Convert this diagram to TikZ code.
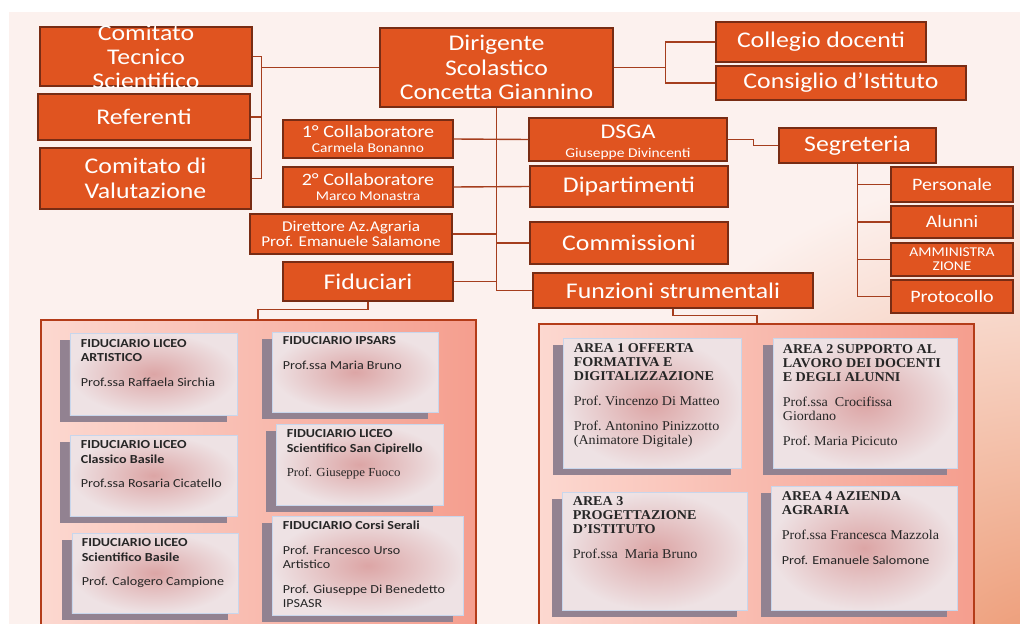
\documentclass[tikz,border=0pt]{standalone}
\usepackage{fontspec}
\setmainfont{Carlito}[FakeStretch=1.15]
\newfontfamily\cardserif{Liberation Serif}[FakeStretch=1.05]
\usetikzlibrary{shadows}
\definecolor{bgpink}{RGB}{252,241,238}
\definecolor{glow}{RGB}{236,148,108}
\definecolor{boxfill}{RGB}{224,84,32}
\definecolor{boxedge}{RGB}{120,44,20}
\definecolor{linkc}{RGB}{165,62,30}
\definecolor{panedge}{RGB}{180,60,25}
\definecolor{panL}{RGB}{252,216,208}
\definecolor{panR}{RGB}{245,158,142}
\definecolor{cin}{RGB}{220,165,165}
\definecolor{cout}{RGB}{238,226,228}
\definecolor{cedge}{RGB}{200,214,236}
\definecolor{cshade}{RGB}{146,130,145}
\begin{document}
\begin{tikzpicture}[x=1bp,y=-1bp,
 obox/.style={draw=boxedge, line width=1.2pt, fill=boxfill, text=white, align=center,
  inner sep=0pt, font=\fontsize{22.5}{24.5}\selectfont},
 otxt/.style={text=white, align=center, inner sep=0pt, font=\fontsize{22.5}{24}\selectfont},
 link/.style={draw=linkc, line width=1.4pt},
 panel/.style={draw=panedge, line width=2pt, left color=panL, right color=panR},
 card/.style={draw=cedge, line width=0.8pt, inner color=cin, outer color=cout,
  drop shadow={shadow xshift=-10pt, shadow yshift=-7pt, opacity=1, fill=cshade}},
 ftxt/.style={anchor=north west, align=left, inner sep=0pt, text=black!85,
  font=\fontsize{12.3}{14.3}\selectfont},
 atxt/.style={anchor=north west, align=left, inner sep=0pt, text=black!85,
  font=\cardserif\fontsize{13.5}{14}\selectfont}]
\useasboundingbox (0,0) rectangle (1020,624);
\fill[white] (-5,-5) rectangle (1040,650);
\fill[bgpink] (9,12) rectangle (1040,650);
\begin{scope}
 \clip (9,12) rectangle (1040,650);
 \shade[inner color=glow, outer color=bgpink] (1045,690) circle[radius=520];
\end{scope}

% left column
\node[obox, minimum width=212bp, minimum height=59bp] (cts) at (146,56.5) {};
\node[otxt] (ctst) at (cts.center) {Comitato\\Tecnico\\Scientifico};
\node[obox, minimum width=212bp, minimum height=46bp] (ref) at (144,117) {Referenti};
\node[obox, minimum width=211bp, minimum height=61bp] (cdv) at (145.5,178.5) {Comitato di\\Valutazione};

% top
\node[obox, minimum width=233bp, minimum height=79bp] (dir) at (496.5,67.5)
 {Dirigente\\Scolastico\\Concetta Giannino};
\node[obox, minimum width=210bp, minimum height=40bp] (col) at (821,42) {Collegio docenti};
\node[obox, minimum width=250bp, minimum height=34bp] (cons) at (841,83) {Consiglio d’Istituto};

% middle
\node[obox, minimum width=170bp, minimum height=38bp, font=\fontsize{17.5}{17}\selectfont] (c1) at (368,139)
 {1° Collaboratore\\[-1pt]{\fontsize{13.5}{14}\selectfont Carmela Bonanno}};
\node[obox, minimum width=170bp, minimum height=40bp, font=\fontsize{17.5}{17}\selectfont] (c2) at (368,187)
 {2° Collaboratore\\[-1pt]{\fontsize{13.5}{14}\selectfont Marco Monastra}};
\node[obox, minimum width=202bp, minimum height=40bp, font=\fontsize{15}{15}\selectfont] (daz) at (351,234)
 {Direttore Az.Agraria\\Prof. Emanuele Salamone};
\node[obox, minimum width=170bp, minimum height=39bp] (fid) at (368,281.5) {Fiduciari};
\node[obox, minimum width=198bp, minimum height=43bp] (dsga) at (628,139.5) {};
\node[otxt, font=\fontsize{21}{19.5}\selectfont] (dsgat) at ([yshift=-3bp]dsga.center)
 {DSGA\\{\fontsize{13.5}{14}\selectfont Giuseppe Divincenti}};
\node[obox, minimum width=198bp, minimum height=41bp] (dip) at (629,186.5) {Dipartimenti};
\node[obox, minimum width=198bp, minimum height=42bp] (comm) at (629,243) {Commissioni};
\node[obox, minimum width=280bp, minimum height=35bp] (fun) at (673,290.5) {Funzioni strumentali};

% segreteria
\node[obox, minimum width=157bp, minimum height=35bp] (seg) at (857.5,145.5) {Segreteria};
\foreach \n/\cy/\h/\fs/\t in {pers/184.5/35/17.5/Personale, alun/222/32/17.5/Alunni,
 amm/259.5/33/13.5/{AMMINISTRA\\ZIONE}, prot/296.5/33/17.5/Protocollo}
 \node[obox, minimum width=122bp, minimum height=\h bp, font=\fontsize{\fs}{14}\selectfont] (\n) at (952,\cy) {\t};

% links
\coordinate (jl) at ([xshift=-118bp]dir.west);
\coordinate (jr) at ([xshift=52bp]dir.east);
\coordinate (js) at ([xshift=26bp]dsga.east);
\draw[link] (cts.east) -| (jl) |- (cdv.east);
\draw[link] (ref.east) -- (ref.east -| jl);
\draw[link] (jl) -- (dir.west);
\draw[link] (col.west) -| (jr) |- (cons.west);
\draw[link] (dir.east) -- (jr);
\draw[link] (dir.south) |- (fun.west);
\foreach \n in {daz,fid}
 \draw[link] (\n.east) -- (\n.east -| dir.south);
\draw[link] (comm.west) -- (comm.west -| dir.south);
\draw[link] (c1.east) -- (dsga.west);
\draw[link] (c2.east) -- (dip.west);
\draw[link] (dsga.east) -- (js) |- (seg.west);
\draw[link] (seg.south) |- (prot.west);
\foreach \n in {pers,alun,amm}
 \draw[link] (\n.west) -- (\n.west -| seg.south);

% panels
\node[panel, minimum width=435bp, minimum height=320bp] (lpan) at (258.5,480) {};
\node[panel, minimum width=435bp, minimum height=320bp] (rpan) at (756.5,484) {};
\coordinate (fj) at (258,309.5);
\coordinate (fr) at (757,315.5);
\draw[link] (fid.south) |- (fj) -- (fj |- lpan.north);
\draw[link] (fun.south) |- (fr) -- (fr |- rpan.north);

\foreach \n/\cx/\cy/\w/\h in {f1/153.5/374/167/82, f2/355/372/166/80, f3/153.5/475.5/167/81,
 f4/359.5/464.5/167/81, f5/155/573/166/80, f6/367.5/565.5/191/99,
 a1/652/403/178/130, a2/865/403/184/130, a3/654.5/551/185/118, a4/864/548/186/124}
 \node[card, minimum width=\w bp, minimum height=\h bp] (\n) at (\cx,\cy) {};

\node[ftxt] (tf1) at ([shift={(11,6.5)}]f1.north west)
 {\textbf{FIDUCIARIO LICEO}\\\textbf{ARTISTICO}\\[10.7pt]Prof.ssa Raffaela Sirchia};
\node[ftxt] (tf2) at ([shift={(11,5)}]f2.north west)
 {\textbf{FIDUCIARIO IPSARS}\\[10.7pt]Prof.ssa Maria Bruno};
\node[ftxt] (tf3) at ([shift={(11,6)}]f3.north west)
 {\textbf{FIDUCIARIO LICEO}\\\textbf{Classico Basile}\\[10.7pt]Prof.ssa Rosaria Cicatello};
\node[ftxt] (tf4) at ([shift={(11,6)}]f4.north west)
 {\textbf{FIDUCIARIO LICEO}\\\textbf{Scientifico San Cipirello}\\[10.7pt]{\cardserif Prof. Giuseppe Fuoco}};
\node[ftxt] (tf5) at ([shift={(10,6)}]f5.north west)
 {\textbf{FIDUCIARIO LICEO}\\\textbf{Scientifico Basile}\\[10.7pt]Prof. Calogero Campione};
\node[ftxt] (tf6) at ([shift={(11,5)}]f6.north west)
 {\textbf{FIDUCIARIO Corsi Serali}\\[10.7pt]Prof. Francesco Urso\\Artistico\\[10.7pt]Prof. Giuseppe Di Benedetto\\IPSASR};

\node[atxt] (ta1) at ([shift={(11,6)}]a1.north west)
 {\textbf{AREA 1 OFFERTA}\\\textbf{FORMATIVA E}\\\textbf{DIGITALIZZAZIONE}\\[11pt]Prof.\ Vincenzo Di Matteo\\[11pt]Prof.\ Antonino Pinizzotto\\(Animatore Digitale)};
\node[atxt] (ta2) at ([shift={(10,7)}]a2.north west)
 {\textbf{AREA 2 SUPPORTO AL}\\\textbf{LAVORO DEI DOCENTI}\\\textbf{E DEGLI ALUNNI}\\[11pt]Prof.ssa\ \ Crocifissa\\Giordano\\[11pt]Prof.\ Maria Picicuto};
\node[atxt] (ta3) at ([shift={(11,5)}]a3.north west)
 {\textbf{AREA 3}\\\textbf{PROGETTAZIONE}\\\textbf{D’ISTITUTO}\\[11pt]Prof.ssa\ \ Maria Bruno};
\node[atxt] (ta4) at ([shift={(11,6)}]a4.north west)
 {\textbf{AREA 4 AZIENDA}\\\textbf{AGRARIA}\\[11pt]Prof.ssa Francesca Mazzola\\[11pt]{\fontsize{12.3}{14}\selectfont\rmfamily Prof. Emanuele Salomone}};
\end{tikzpicture}
\end{document}
